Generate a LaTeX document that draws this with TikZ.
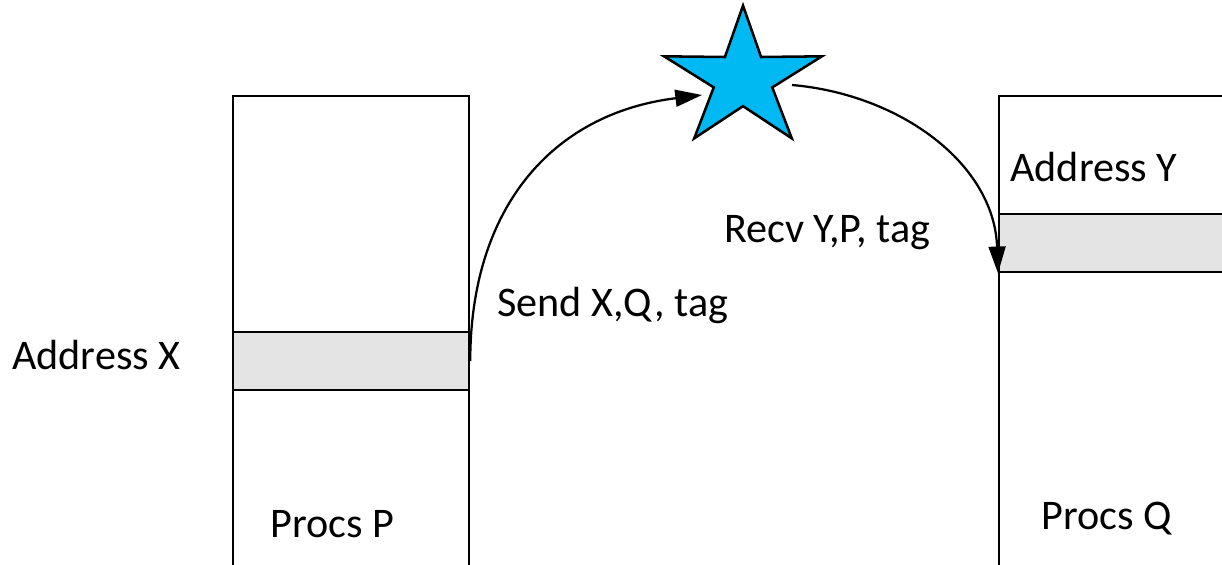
\documentclass[tikz,border=0pt]{standalone}
\usepackage{fontspec}
\setmainfont{Carlito}
\usetikzlibrary{positioning, arrows.meta, shapes.geometric}
\definecolor{starblue}{RGB}{0,185,242}
\definecolor{bandgray}{RGB}{228,228,228}
\tikzset{
    procbox/.style={rectangle, draw=black, fill=white, line width=1.6pt, inner sep=0pt},
    bufband/.style={rectangle, draw=black, fill=bandgray, line width=1.6pt, inner sep=0pt},
    netstar/.style={star, star points=5, star point ratio=2.7, draw=black, fill=starblue, line width=1.8pt, minimum size=4.15cm, inner sep=0pt, yscale=0.884},
    lbl/.style={font=\fontsize{30}{36}\selectfont, anchor=base west, inner sep=0pt},
    msg/.style={-{Triangle[length=19pt, width=12pt]}, line width=1.6pt}
}
\begin{document}
\begin{tikzpicture}
    \useasboundingbox (0,0) rectangle (30.55,14.125);
    \clip (0,0) rectangle (30.55,14.125);
    % memory of the two processes
    \node[procbox, minimum width=5.9cm, minimum height=12.5cm, anchor=north west] at (5.8,11.75) (procP) {};
    \node[procbox, minimum width=6.5cm, minimum height=12.5cm, anchor=north west] at (24.95,11.75) (procQ) {};
    \node[bufband, minimum width=5.9cm, minimum height=1.45cm, anchor=north west] at (5.8,5.85) (bufX) {};
    \node[bufband, minimum width=6.5cm, minimum height=1.45cm, anchor=north west] at (24.95,8.8) (bufY) {};
    \node[netstar] at (18.575,12.15) (net) {};
    \node[lbl] at (0.3,4.875) (addrX) {Address X};
    \node[lbl] at (25.25,9.575) (addrY) {Address Y};
    \node[lbl] at (12.425,6.2) (send) {Send X,Q, tag};
    \node[lbl] at (18.1,8.05) (recv) {Recv Y,P, tag};
    \node[lbl] at (6.75,0.675) (nameP) {Procs P};
    \node[lbl] at (26.025,0.875) (nameQ) {Procs Q};
    \coordinate (netin) at (17.55,11.75);
    \coordinate (netout) at (19.8,12.0);
    \draw[msg] (bufX.east) to[out=90, in=187, looseness=1.1] (netin);
    \draw[msg] (netout) to[out=-5, in=92, looseness=1.0] (bufY.south west);
\end{tikzpicture}
\end{document}
